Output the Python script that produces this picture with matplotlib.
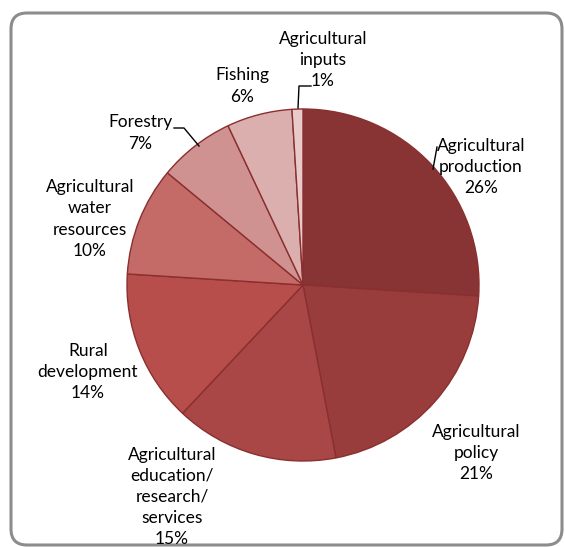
import matplotlib.pyplot as plt
from matplotlib.patches import FancyBboxPatch

# data, clockwise from 12 o'clock
categories = ['Agricultural\nproduction', 'Agricultural\npolicy',
              'Agricultural\neducation/\nresearch/\nservices', 'Rural\ndevelopment',
              'Agricultural\nwater\nresources', 'Forestry', 'Fishing',
              'Agricultural\ninputs']
shares = [26, 21, 15, 14, 10, 7, 6, 1]
colors = ['#893434', '#993d3c', '#a94646', '#b84e4b', '#c46a67',
          '#d09191', '#dcafaf', '#e9caca']

W, H = 565, 547
fig = plt.figure(figsize=(W / 100, H / 100), dpi=100)
ax = fig.add_axes([0, 0, 1, 1])

# outer rounded frame
frame = FancyBboxPatch((11, 2), 551, 532, boxstyle='round,pad=0,rounding_size=16',
                       fc='white', ec='#8c8c8c', lw=2.2, zorder=0)
ax.add_patch(frame)

cx, cy, r = 303, H - 285, 176
ax.pie(shares, colors=colors, startangle=90, counterclock=False,
       center=(cx, cy), radius=r, frame=True,
       wedgeprops=dict(edgecolor='#8a2f2f', linewidth=1.0))
ax.set_xlim(0, W)
ax.set_ylim(0, H)
ax.set_aspect('equal')
ax.axis('off')

# label anchor points (pixel coords, y from top)
label_pos = [(481, 167), (476, 453), (172, 497), (88, 372),
             (90, 219), (140, 133), (242, 86), (323, 60)]

for name, val, (px, py) in zip(categories, shares, label_pos):
    ax.text(px, H - py, f'{name}\n{val}%', ha='center', va='center',
            fontsize=12.5, family='Lato', linespacing=1.4)

# leader lines
lk = dict(color='black', lw=1.0)
ax.plot([433, 437], [H - 169, H - 147], **lk)
ax.plot([174, 184, 199], [H - 128, H - 128, H - 146], **lk)
ax.plot([298, 299, 311], [H - 108, H - 86, H - 86], **lk)

fig.savefig('out.png', dpi=100)
